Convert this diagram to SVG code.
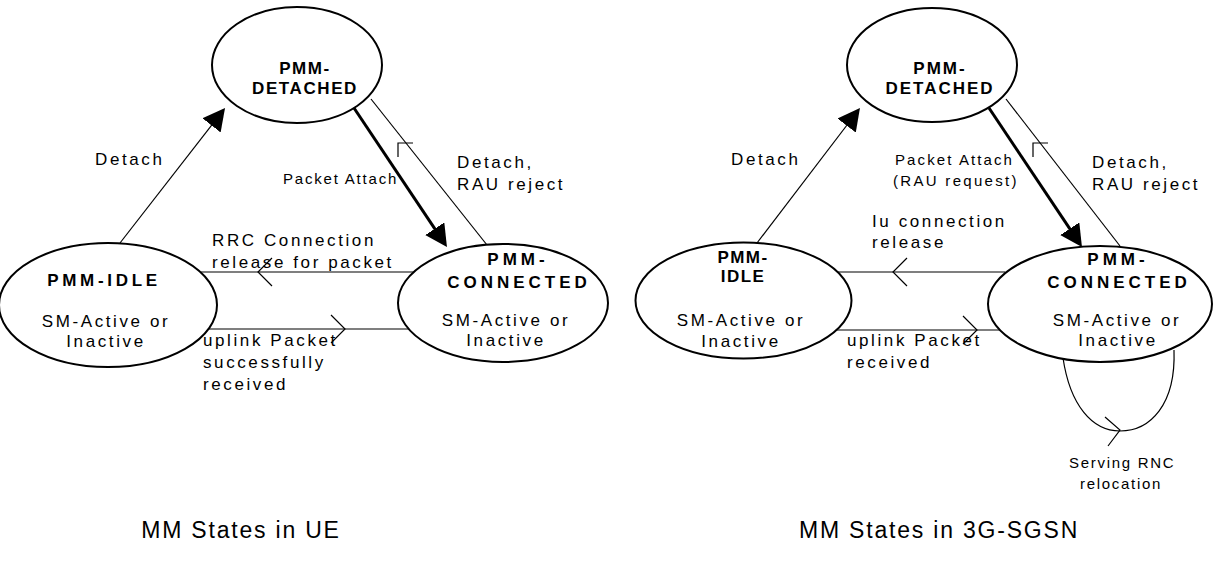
<svg xmlns="http://www.w3.org/2000/svg" width="1213" height="561" viewBox="0 0 1213 561">
<defs>
<style>
.st{fill:#fff;stroke:#000;stroke-width:2}
.ln{fill:none;stroke:#000;stroke-width:1.2}
.thick{fill:none;stroke:#000;stroke-width:3}
text{font-family:"Liberation Sans",Arial,sans-serif;fill:#000}
.b{font-weight:bold;font-size:17px;text-anchor:middle}
.r{font-size:17px;letter-spacing:2.6px}
.rc{font-size:17px;letter-spacing:2.6px;text-anchor:middle}
.s{font-size:15px;letter-spacing:2px}
.t{font-size:23px;letter-spacing:1.8px;text-anchor:middle}
</style>
<marker id="ah" markerUnits="userSpaceOnUse" markerWidth="24" markerHeight="24" refX="12" refY="11.5" orient="auto" viewBox="0 0 24 24">
<path d="M0,0 L22,11.5 L0,23 Z" fill="#000"/>
</marker>
</defs>
<rect width="1213" height="561" fill="#fff"/>

<g id="connectors">
<!-- left diagram -->
<line class="ln" x1="120" y1="243" x2="218.9" y2="115.9" marker-end="url(#ah)"/>
<line class="thick" x1="354" y1="108" x2="441.4" y2="238.7" marker-end="url(#ah)"/>
<line class="ln" x1="371" y1="99" x2="487" y2="245"/>
<path class="ln" d="M398,157 L398,143 L413,143"/>
<line class="ln" x1="201" y1="272" x2="414" y2="272"/>
<path class="ln" d="M272,258 L258,272 L272,286"/>
<line class="ln" x1="208" y1="329" x2="409" y2="329"/>
<path class="ln" d="M331,315 L345,329 L331,343"/>
<!-- right diagram -->
<line class="ln" x1="757" y1="243" x2="853.9" y2="116" marker-end="url(#ah)"/>
<line class="thick" x1="989" y1="108" x2="1076.4" y2="238.7" marker-end="url(#ah)"/>
<line class="ln" x1="1006" y1="99" x2="1120" y2="246"/>
<path class="ln" d="M1033,157 L1033,143 L1048,143"/>
<line class="ln" x1="837" y1="272" x2="1005" y2="272"/>
<path class="ln" d="M907,258 L893,272 L907,286"/>
<line class="ln" x1="836" y1="330" x2="1000" y2="330"/>
<path class="ln" d="M963,316 L977,330 L963,344"/>
<path class="ln" d="M1063,358 C1070,405 1092,431 1120,431 C1150,431 1176,405 1174,350"/>
<path class="ln" d="M1105,417 L1120,430 L1108,446"/>
</g>

<g id="ue-detached">
<ellipse class="st" cx="297" cy="65" rx="85" ry="58"/>
<text class="b" x="305" y="74" style="letter-spacing:1.6px">PMM-</text>
<text class="b" x="305" y="94" style="letter-spacing:1.6px">DETACHED</text>
</g>
<g id="ue-idle">
<ellipse class="st" cx="108" cy="305" rx="109" ry="62"/>
<text class="b" x="104" y="286" style="letter-spacing:3.7px">PMM-IDLE</text>
<text class="rc" x="106" y="327">SM-Active or</text>
<text class="rc" x="106" y="347">Inactive</text>
</g>
<g id="ue-connected">
<ellipse class="st" cx="503" cy="303" rx="105" ry="59"/>
<text class="b" x="518" y="265" style="letter-spacing:4px">PMM-</text>
<text class="b" x="519" y="288" style="letter-spacing:4px">CONNECTED</text>
<text class="rc" x="506" y="326">SM-Active or</text>
<text class="rc" x="506" y="346">Inactive</text>
</g>

<g id="sgsn-detached">
<ellipse class="st" cx="932" cy="65" rx="85" ry="57"/>
<text class="b" x="940" y="74" style="letter-spacing:2px">PMM-</text>
<text class="b" x="940" y="94" style="letter-spacing:2px">DETACHED</text>
</g>
<g id="sgsn-idle">
<ellipse class="st" cx="743.5" cy="300.5" rx="108" ry="58"/>
<text class="b" x="743" y="263" style="letter-spacing:1.4px">PMM-</text>
<text class="b" x="743" y="282" style="letter-spacing:1.4px">IDLE</text>
<text class="rc" x="741" y="326">SM-Active or</text>
<text class="rc" x="741" y="347">Inactive</text>
</g>
<g id="sgsn-connected">
<ellipse class="st" cx="1100" cy="304" rx="112" ry="58"/>
<text class="b" x="1118" y="265" style="letter-spacing:4px">PMM-</text>
<text class="b" x="1119" y="288" style="letter-spacing:4px">CONNECTED</text>
<text class="rc" x="1117" y="326">SM-Active or</text>
<text class="rc" x="1118" y="346">Inactive</text>
</g>

<g id="labels">
<text class="r" x="95" y="165">Detach</text>
<text class="s" x="283" y="184" style="letter-spacing:1.8px">Packet Attach</text>
<text class="r" x="457" y="168">Detach,</text>
<text class="r" x="457" y="190">RAU reject</text>
<text class="r" x="212" y="246">RRC Connection</text>
<text class="r" x="212" y="268">release for packet</text>
<text class="r" x="203" y="346">uplink Packet</text>
<text class="r" x="203" y="368">successfully</text>
<text class="r" x="203" y="390">received</text>

<text class="r" x="731" y="165">Detach</text>
<text class="s" x="895" y="165" style="letter-spacing:2.1px">Packet Attach</text>
<text class="s" x="893" y="186" style="letter-spacing:2.3px">(RAU request)</text>
<text class="r" x="1092" y="168">Detach,</text>
<text class="r" x="1092" y="190">RAU reject</text>
<text class="r" x="872" y="227">Iu connection</text>
<text class="r" x="872" y="248">release</text>
<text class="r" x="847" y="346">uplink Packet</text>
<text class="r" x="847" y="368">received</text>
<text class="s" x="1069" y="468" style="letter-spacing:1.7px">Serving RNC</text>
<text class="s" x="1080" y="489" style="letter-spacing:1.7px">relocation</text>

<text class="t" x="241" y="538">MM States in UE</text>
<text class="t" x="939" y="538">MM States in 3G-SGSN</text>
</g>
</svg>
